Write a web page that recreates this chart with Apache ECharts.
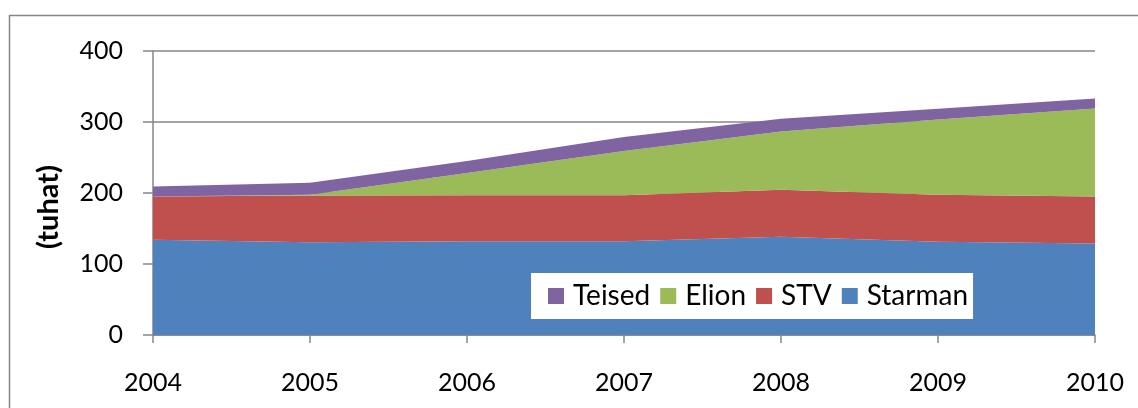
<!DOCTYPE html>
<html>
<head>
<meta charset="utf-8">
<script src="https://cdn.jsdelivr.net/npm/echarts@6/dist/echarts.min.js"></script>
<style>
  html, body { margin: 0; padding: 0; background: #fff; }
  #chart { width: 1138px; height: 408px; }
</style>
</head>
<body>
<div id="chart"></div>
<script>
// aastad
var years = ["2004", "2005", "2006", "2007", "2008", "2009", "2010"];
// tuhat
var starman = [134, 130.5, 132, 132, 138.5, 131.5, 129];
var stv = [61, 66, 65, 65, 66, 66, 66];
var elion = [0, 1, 31, 62, 82, 106, 124];
var teised = [14, 17, 17, 20, 18, 15, 14];
var legendOrder = ["Teised", "Elion", "STV", "Starman"];

var axisGray = "#868686";
var font = "Lato";

var myChart = echarts.init(document.getElementById("chart"));

function areaSeries(name, data, color) {
  return {
    name: name,
    type: "line",
    stack: "kokku",
    data: data,
    symbol: "none",
    lineStyle: { width: 0 },
    areaStyle: { color: color, opacity: 1 },
    itemStyle: { color: color }
  };
}

var option = {
  animation: false,
  textStyle: { fontFamily: font },
  // välimine raam
  graphic: [{
    type: "rect",
    left: 7,
    top: 13,
    shape: { width: 1200, height: 500 },
    style: { fill: "none", stroke: axisGray, lineWidth: 1.5 },
    silent: true
  }],
  grid: { left: 153, right: 43, top: 51, bottom: 73 },
  legend: {
    data: legendOrder,
    left: 531,
    top: 273,
    padding: [9, 5, 9, 17],
    backgroundColor: "#fff",
    itemWidth: 16,
    itemHeight: 16,
    itemGap: 10,
    icon: "rect",
    textStyle: { fontSize: 28, color: "#000", fontFamily: font, padding: [0, 0, 0, 4] }
  },
  xAxis: {
    type: "category",
    data: years,
    boundaryGap: false,
    axisLine: { lineStyle: { color: axisGray, width: 1.5 } },
    axisTick: { show: true, length: 8, lineStyle: { color: axisGray, width: 1.5 } },
    axisLabel: { color: "#000", fontSize: 25, margin: 35, fontFamily: font }
  },
  yAxis: {
    type: "value",
    min: 0,
    max: 400,
    interval: 100,
    name: "(tuhat)",
    nameLocation: "middle",
    nameRotate: 90,
    nameGap: 90,
    nameTextStyle: { fontSize: 29, fontWeight: "bold", color: "#000", fontFamily: font, padding: [0, 28, 0, 0] },
    axisLine: { show: true, lineStyle: { color: axisGray, width: 1.5 } },
    axisTick: { show: true, length: 10, lineStyle: { color: axisGray, width: 1.5 } },
    axisLabel: { color: "#000", fontSize: 25, margin: 30, fontFamily: font },
    splitLine: { lineStyle: { color: axisGray, width: 1.5 } }
  },
  series: [
    areaSeries("Starman", starman, "#4F81BD"),
    areaSeries("STV", stv, "#C0504D"),
    areaSeries("Elion", elion, "#9BBB59"),
    areaSeries("Teised", teised, "#8064A2")
  ]
};

myChart.setOption(option);
</script>
</body>
</html>
